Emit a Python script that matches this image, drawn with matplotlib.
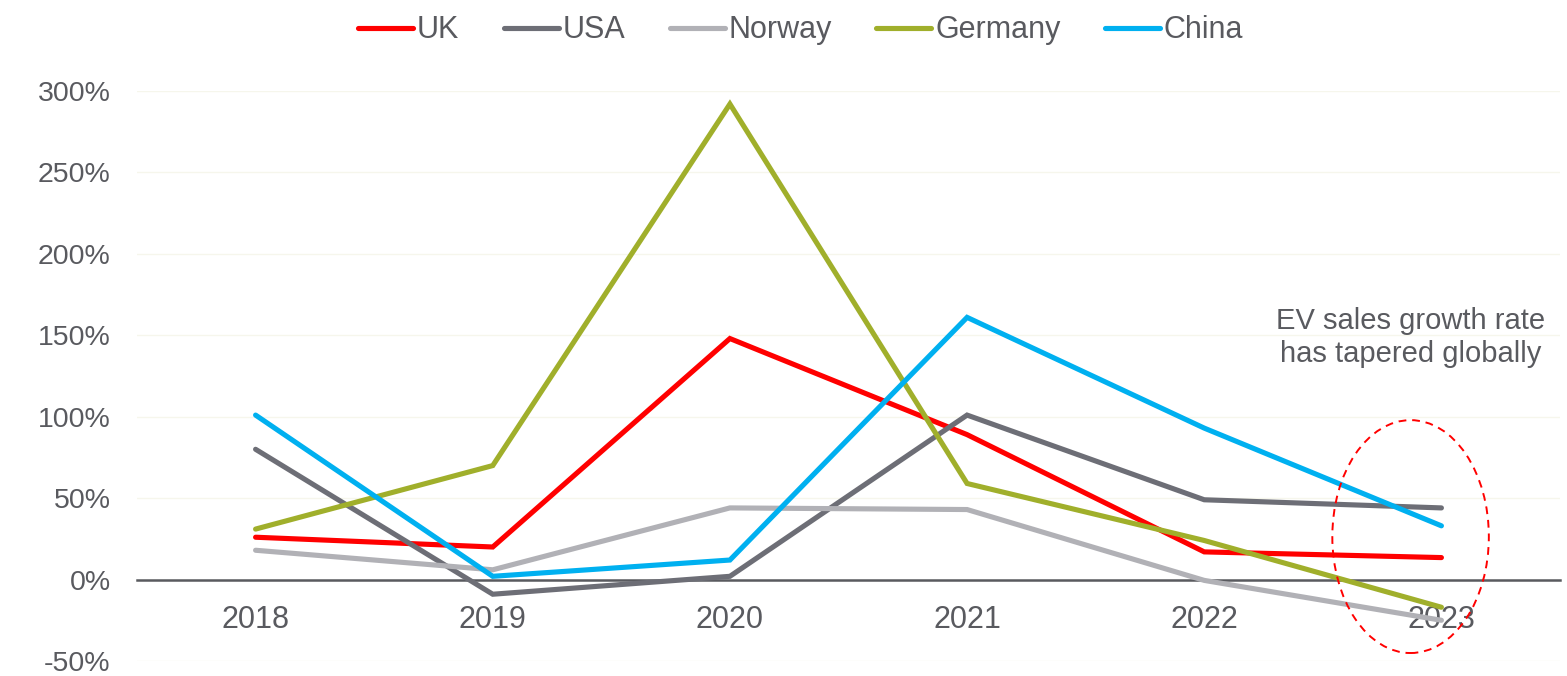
import matplotlib
matplotlib.use("Agg")
import matplotlib.pyplot as plt
from matplotlib.patches import Ellipse

plt.rcParams['font.family'] = ['Liberation Sans', 'DejaVu Sans']

years = ["2018", "2019", "2020", "2021", "2022", "2023"]
uk = [26, 20, 148, 89, 17, 13.5]
usa = [80, -9, 2, 101, 49, 44]
norway = [18, 6, 44, 43, -0.5, -25]
germany = [31, 70, 292, 59, 24, -17]
china = [101, 2, 12, 161, 93, 33]

series = [
    ("UK", uk, "#FF0000"),
    ("USA", usa, "#6D6E76"),
    ("Norway", norway, "#B1B1B6"),
    ("Germany", germany, "#A0AF2B"),
    ("China", china, "#00B0F0"),
]

text_color = "#595A5F"

fig = plt.figure(figsize=(15.67, 6.76), dpi=100)
ax = fig.add_axes([137 / 1567, 1 - 661 / 676, (1560 - 137) / 1567, (661 - 91) / 676])

x = list(range(len(years)))
for name, vals, color in series:
    ax.plot(x, vals, color=color, lw=3.7, solid_capstyle="round",
            solid_joinstyle="miter", label=name, zorder=3)

ax.set_xlim(-0.5, len(years) - 0.5)
ax.set_ylim(-50, 300)
ax.set_yticks(range(-50, 301, 50))
ax.set_yticklabels([f"{v}%" for v in range(-50, 301, 50)])
ax.set_xticks(x)
ax.set_xticklabels(years)

ax.grid(axis="y", color="#F6F6EC", lw=1)
ax.set_axisbelow(True)
for s in ["top", "right", "left"]:
    ax.spines[s].set_visible(False)
ax.spines["bottom"].set_position(("data", 0))
ax.spines["bottom"].set_color("#595A5F")
ax.spines["bottom"].set_linewidth(1.8)
ax.spines["bottom"].set_zorder(2)

ax.tick_params(axis="x", length=0, pad=18, labelsize=22, labelcolor=text_color)
ax.tick_params(axis="y", length=0, pad=19, labelsize=20.5, labelcolor=text_color)

# Highlight of the 2023 values
ell = Ellipse((4.87, 26.4), width=0.66, height=143, fill=False,
              edgecolor="#FF0000", lw=1.4, linestyle=(0, (4, 3)), zorder=4)
ax.add_patch(ell)
ax.text(4.87, 130, "EV sales growth rate\nhas tapered globally", ha="center",
        va="bottom", fontsize=21, color=text_color, linespacing=1.2)

fig.legend(loc="upper center", bbox_to_anchor=(0.511, 1.018), ncol=5, frameon=False,
           fontsize=22, handlelength=1.8, handletextpad=0.13, columnspacing=1.45,
           labelcolor=text_color)

fig.savefig("out.png", dpi=100)
